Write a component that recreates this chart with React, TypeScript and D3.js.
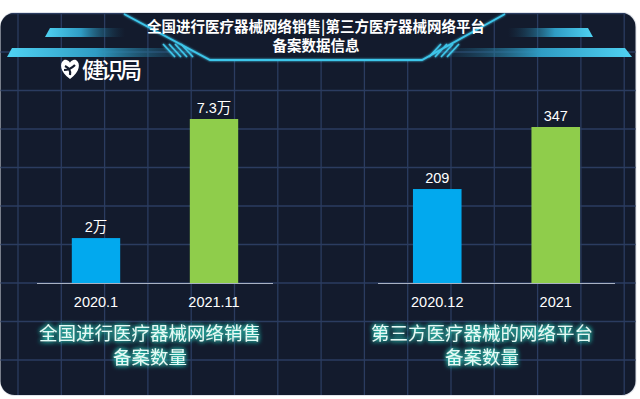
import React from "react";
import * as d3 from "d3";

const leftCategories = ["2020.1", "2021.11"];
const leftValues = [2, 7.3];
const leftLabels = ["2万", "7.3万"];
const rightCategories = ["2020.12", "2021"];
const rightValues = [209, 347];
const rightLabels = ["209", "347"];
const barColors = ["#02a9ee", "#8fcd4b"];
const titleLines = ["全国进行医疗器械网络销售|第三方医疗器械网络平台", "备案数据信息"];
const leftCaption = ["全国进行医疗器械网络销售", "备案数量"];
const rightCaption = ["第三方医疗器械的网络平台", "备案数量"];

const W = 640;
const H = 399;
const BASE = 283;

const numFont = "'Liberation Sans', Arial, 'Noto Sans CJK SC', sans-serif";
const cjkFont = "'Noto Sans CJK SC', 'Noto Sans', sans-serif";

function Panel({ cats, vals, labels, x0, x1, yTop }: any) {
  const x = d3.scaleBand<string>().domain(cats).range([x0, x1]).paddingInner(0.59).paddingOuter(0.295);
  const y = d3.scaleLinear().domain([0, d3.max(vals) as number]).range([BASE, yTop]);
  return (
    <g>
      <line x1={x0} x2={x1} y1={BASE + 0.5} y2={BASE + 0.5} stroke="#a9b2c3" strokeWidth={1.2} />
      {cats.map((c: string, i: number) => (
        <g key={c}>
          <rect x={x(c)} y={y(vals[i])} width={x.bandwidth()} height={BASE - y(vals[i])} fill={barColors[i]} />
          <text x={(x(c) as number) + x.bandwidth() / 2} y={y(vals[i]) - 6} textAnchor="middle" fill="#ffffff" fontSize={14.5} fontFamily={numFont}>{labels[i]}</text>
          <text x={(x(c) as number) + x.bandwidth() / 2} y={307} textAnchor="middle" fill="#ffffff" fontSize={14.5} fontFamily={numFont}>{c}</text>
        </g>
      ))}
    </g>
  );
}

export default function App() {
  const gx = d3.range(0, 15).map((k) => 18 + 43.3 * k);
  const gy = d3.range(0, 10).map((k) => 13.5 + 38.5 * k);
  return (
    <div style={{ position: "fixed", left: 0, top: 0, width: W, height: H, background: "#ffffff" }}>
      <svg width={W} height={H} viewBox={`0 0 ${W} ${H}`}>
        <defs>
          <clipPath id="card">
            <rect x={0.5} y={13} width={635} height={382} rx={14} />
          </clipPath>
          <linearGradient id="gl" x1="0" x2="1" y1="0" y2="0">
            <stop offset="0" stopColor="#4fd2f2" />
            <stop offset="0.45" stopColor="#2f9cc4" />
            <stop offset="1" stopColor="#1a4a66" stopOpacity="0" />
          </linearGradient>
          <linearGradient id="gr" x1="1" x2="0" y1="0" y2="0">
            <stop offset="0" stopColor="#4fd2f2" />
            <stop offset="0.45" stopColor="#2f9cc4" />
            <stop offset="1" stopColor="#1a4a66" stopOpacity="0" />
          </linearGradient>
          <filter id="glow" x="-20%" y="-60%" width="140%" height="220%">
            <feGaussianBlur in="SourceAlpha" stdDeviation="2.4" result="b" />
            <feFlood floodColor="#2fd8c4" floodOpacity="1" result="c" />
            <feComposite in="c" in2="b" operator="in" result="g" />
            <feMerge>
              <feMergeNode in="g" />
              <feMergeNode in="g" />
              <feMergeNode in="SourceGraphic" />
            </feMerge>
          </filter>
          <filter id="lglow" x="-10%" y="-50%" width="120%" height="200%">
            <feGaussianBlur stdDeviation="1.2" result="b" />
            <feMerge>
              <feMergeNode in="b" />
              <feMergeNode in="SourceGraphic" />
            </feMerge>
          </filter>
        </defs>
        <rect x={0} y={12} width={636.5} height={384} rx={14.5} fill="#dfe3ea" />
        <g clipPath="url(#card)">
          <rect x={0} y={0} width={W} height={H} fill="#131b2d" />
          {gx.map((v, i) => (
            <line key={"gx" + i} x1={v} x2={v} y1={0} y2={H} stroke="#2b3c60" strokeWidth={1.3} />
          ))}
          {gy.map((v, i) => (
            <line key={"gy" + i} x1={0} x2={W} y1={v} y2={v} stroke="#2b3c60" strokeWidth={1.3} />
          ))}
          {/* header side bars */}
          <polygon points="50,28 125,28 125,37 45,37" fill="url(#gl)" />
          <polygon points="12,48 205,48 205,57 7,57" fill="url(#gl)" />
          <polygon points="508,28 588,28 593,37 508,37" fill="url(#gr)" />
          <polygon points="430,48 625,48 632,57 430,57" fill="url(#gr)" />
          {/* header frame */}
          <polygon points="124,13 505,13 422,60 210,60" fill="#131b2d" />
          <g filter="url(#lglow)" stroke="#3ec6ea" fill="none" strokeWidth={1.8}>
            <polyline points="124,14 210,60 422,60 505,14" />
            {d3.range(4).map((k) => (
              <line key={"sl" + k} x1={163 + k * 6} y1={44} x2={175 + k * 6} y2={57} strokeWidth={1.6} />
            ))}
            {d3.range(4).map((k) => (
              <line key={"sr" + k} x1={459 - k * 6} y1={44} x2={447 - k * 6} y2={57} strokeWidth={1.6} />
            ))}
          </g>
          {titleLines.map((t, i) => (
            <text key={t} x={316} y={32 + i * 19} textAnchor="middle" fill="#ffffff" fontSize={14.5} fontWeight={600} fontFamily={cjkFont}>{t}</text>
          ))}
          {/* logo */}
          <g transform="translate(70,69)">
            <path d="M0,10 C-10,3 -11,-6 -6,-9 C-3,-10 0,-7 0,-6 C0,-7 3,-10 6,-9 C11,-6 10,3 0,10 Z" fill="#ffffff" />
            <path d="M-5,-3 C-1,-1 1,2 0,6 M5,-4 C2,-1 -2,1 -6,1" stroke="#131b2d" strokeWidth={2.2} fill="none" />
          </g>
          <text x={82} y={78} fill="#ffffff" fontSize={22} fontWeight={500} letterSpacing={-3} fontFamily={cjkFont}>健识局</text>
          <Panel cats={leftCategories} vals={leftValues} labels={leftLabels} x0={37} x1={273} yTop={119} />
          <Panel cats={rightCategories} vals={rightValues} labels={rightLabels} x0={378} x1={615} yTop={127} />
          <g filter="url(#glow)">
            {leftCaption.map((t, i) => (
              <text key={"lc" + i} x={150} y={340 + i * 24} textAnchor="middle" fill="#e2fcf7" fontSize={18.5} fontFamily={cjkFont}>{t}</text>
            ))}
            {rightCaption.map((t, i) => (
              <text key={"rc" + i} x={482} y={340 + i * 24} textAnchor="middle" fill="#e2fcf7" fontSize={18.5} fontFamily={cjkFont}>{t}</text>
            ))}
          </g>
        </g>
      </svg>
    </div>
  );
}
